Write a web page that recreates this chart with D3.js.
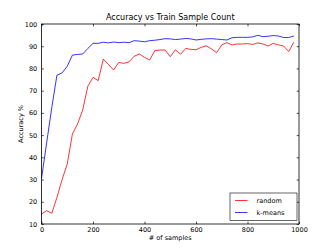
<!DOCTYPE html>
<html>
<head>
<meta charset="utf-8">
<script src="https://cdn.jsdelivr.net/npm/d3@7"></script>
<style>
	body { margin: 0; background: #fff; }
	text { font-family: 'DejaVu Sans', sans-serif; fill: #000; }
</style>
</head>
<body>
<div id="js_chart"></div>
<script>
'use strict';
// sample counts on the x axis
const samples = d3.range(0, 1000, 20);
// accuracy for random sampling
const randomAcc = [14.5, 16, 14.8, 22, 30, 37, 50.5, 55, 61.3, 72,
	76, 74.5, 84.2, 81.8, 79.3, 82.7, 82.3, 83, 85.5, 86.5,
	85, 83.8, 88, 88.3, 88.3, 85.3, 88.4, 86.4, 89, 88.6,
	88.4, 89.5, 90.2, 88.8, 87.1, 90.6, 91.6, 90.6, 91, 91,
	91.2, 90.8, 91.5, 91, 90.1, 91.3, 90.6, 90.1, 87.6, 91.8];
// accuracy for k-means sampling
const kmeansAcc = [30.5, 46.5, 62.5, 77, 78, 81, 86, 86.3, 86.5, 89,
	91.3, 91.3, 91.8, 91.5, 91.9, 91.6, 91.8, 91.6, 92.5, 92.3,
	92, 92.5, 92.7, 93, 93.4, 93.3, 93, 93.2, 93.5, 93.3,
	92.8, 93.1, 93.3, 93.4, 93.2, 93, 92.8, 93.8, 94, 94,
	94, 94.2, 94.9, 94.3, 94.5, 94.8, 94.6, 93.9, 93.9, 94.6];
const xTicks = [0, 200, 400, 600, 800, 1000];
const yTicks = [10, 20, 30, 40, 50, 60, 70, 80, 90, 100];
const seriesNames = ['random', 'k-means'];
const seriesColors = ['#ff0000', '#0000ff'];

const width = 332;
const height = 249;
const margin = { top: 24, right: 33, bottom: 25, left: 41.5 };
const tickFont = 6.5;
const tickLen = 2.3;

const svg = d3.select('#js_chart').append('svg')
	.attr('width', width)
	.attr('height', height);

const x = d3.scaleLinear().domain([0, 1000]).range([margin.left, width - margin.right]);
const y = d3.scaleLinear().domain([10, 100]).range([height - margin.bottom, margin.top]);

// series lines
const line = d3.line()
	.x(function (d) { return x(d[0]); })
	.y(function (d) { return y(d[1]); });
[randomAcc, kmeansAcc].forEach(function (vals, i) {
	svg.append('path')
		.datum(samples.map(function (s, j) { return [s, vals[j]]; }))
		.attr('d', line)
		.attr('fill', 'none')
		.attr('stroke', seriesColors[i])
		.attr('stroke-width', 0.8);
});

// axes, ticks pointing inward like classic matplotlib
function styleAxis(g) {
	g.selectAll('.domain').remove();
	g.selectAll('line').attr('stroke', '#000').attr('stroke-width', 0.7);
	g.selectAll('text').style('font-size', tickFont + 'px');
}
const fmt = d3.format('d');
svg.append('g')
	.attr('transform', 'translate(0,' + y.range()[0] + ')')
	.call(d3.axisBottom(x).tickValues(xTicks).tickFormat(fmt).tickSizeInner(-tickLen).tickSizeOuter(0).tickPadding(tickLen + 1))
	.call(styleAxis);
svg.append('g')
	.attr('transform', 'translate(0,' + y.range()[1] + ')')
	.call(d3.axisTop(x).tickValues(xTicks).tickSizeInner(-tickLen).tickSizeOuter(0).tickFormat(''))
	.call(styleAxis);
svg.append('g')
	.attr('transform', 'translate(' + x.range()[0] + ',0)')
	.call(d3.axisLeft(y).tickValues(yTicks).tickFormat(fmt).tickSizeInner(-tickLen).tickSizeOuter(0).tickPadding(tickLen + 2))
	.call(styleAxis);
svg.append('g')
	.attr('transform', 'translate(' + x.range()[1] + ',0)')
	.call(d3.axisRight(y).tickValues(yTicks).tickSizeInner(-tickLen).tickSizeOuter(0).tickFormat(''))
	.call(styleAxis);

// frame
svg.append('rect')
	.attr('x', x.range()[0])
	.attr('y', y.range()[1])
	.attr('width', x.range()[1] - x.range()[0])
	.attr('height', y.range()[0] - y.range()[1])
	.attr('fill', 'none')
	.attr('stroke', '#000')
	.attr('stroke-width', 0.8);

// title and labels
const cx = (x.range()[0] + x.range()[1]) / 2;
svg.append('text')
	.attr('x', cx).attr('y', 20)
	.attr('text-anchor', 'middle')
	.style('font-size', '8px')
	.text('Accuracy vs Train Sample Count');
svg.append('text')
	.attr('x', cx).attr('y', 240)
	.attr('text-anchor', 'middle')
	.style('font-size', tickFont + 'px')
	.text('# of samples');
svg.append('text')
	.attr('transform', 'translate(22.5,' + ((y.range()[0] + y.range()[1]) / 2) + ') rotate(-90)')
	.attr('text-anchor', 'middle')
	.style('font-size', tickFont + 'px')
	.text('Accuracy %');

// legend
const lg = svg.append('g').attr('transform', 'translate(230,193)');
lg.append('rect')
	.attr('width', 67).attr('height', 27.5)
	.attr('fill', '#fff')
	.attr('stroke', '#000')
	.attr('stroke-width', 0.6);
seriesNames.forEach(function (name, i) {
	lg.append('line')
		.attr('x1', 5).attr('x2', 17.5)
		.attr('y1', 7.5 + i * 12).attr('y2', 7.5 + i * 12)
		.attr('stroke', seriesColors[i])
		.attr('stroke-width', 0.8);
	lg.append('text')
		.attr('x', 26.5).attr('y', 7.5 + i * 12)
		.attr('dy', '0.35em')
		.style('font-size', tickFont + 'px')
		.text(name);
});
</script>
</body>
</html>
